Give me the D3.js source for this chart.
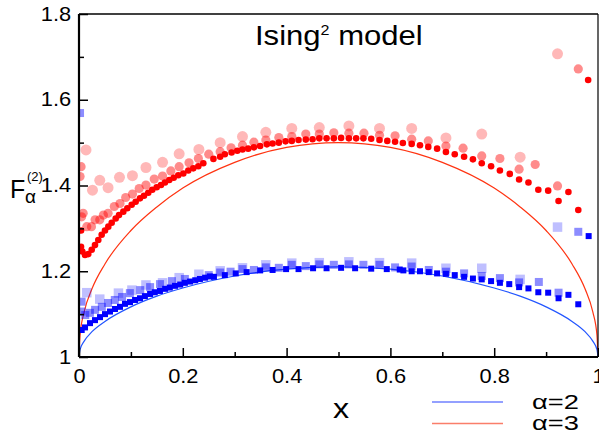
<!DOCTYPE html>
<html>
<head>
<meta charset="utf-8">
<script src="https://cdn.jsdelivr.net/npm/d3@7"></script>
<style>
  body { margin: 0; background: #fff; }
  text { font-family: "Liberation Sans", Arial, Helvetica, sans-serif; fill: #000; }
</style>
</head>
<body>
<div id="chart"></div>
<script>
// theory curves
const curveX   = [0, .002, .01, .025, .05, .1, .15, .2, .3, .4, .5, .6, .7, .8, .85, .9, .95, .975, .99, .998, 1];
const curveA2  = [1, 1.017, 1.037, 1.059, 1.083, 1.117, 1.142, 1.161, 1.189, 1.205, 1.21, 1.205, 1.189, 1.161, 1.142, 1.117, 1.083, 1.059, 1.037, 1.017, 1];
const curveA3  = [1, 1.051, 1.105, 1.159, 1.217, 1.295, 1.350, 1.394, 1.454, 1.489, 1.5, 1.489, 1.454, 1.394, 1.350, 1.295, 1.217, 1.159, 1.105, 1.051, 1];

// alpha=3 numerics (circles): light/large, medium, solid/small
const redLight = [[.0135,1.483],[.026,1.389],[.040,1.412],[.056,1.395],[.078,1.419],[.103,1.423],[.129,1.442],[.161,1.454],
  [.193,1.474],[.231,1.484],[.272,1.500],[.315,1.514],[.360,1.524],[.410,1.533],[.463,1.535],[.520,1.539],[.579,1.533],
  [.641,1.533],[.707,1.511],[.776,1.520],[.850,1.466],[.922,1.707]];
const redMid = [[.004,1.444],[.002,1.421],[.008,1.335],[.005,1.327],[.015,1.304],[.024,1.304],[.031,1.320],[.040,1.320],
  [.047,1.331],[.056,1.335],[.068,1.351],[.079,1.358],[.090,1.372],[.103,1.380],[.116,1.393],[.129,1.401],[.145,1.415],
  [.161,1.422],[.177,1.434],[.193,1.444],[.212,1.453],[.230,1.463],[.250,1.473],[.272,1.479],[.293,1.488],[.315,1.494],
  [.337,1.501],[.360,1.506],[.385,1.512],[.410,1.514],[.437,1.520],[.463,1.520],[.491,1.523],[.520,1.522],[.549,1.522],
  [.579,1.517],[.609,1.516],[.641,1.508],[.673,1.504],[.707,1.492],[.740,1.487],[.776,1.469],[.811,1.463],[.848,1.438],
  [.879,1.449],[.922,1.399],[.962,1.672]];
const redSmall = [[.004,1.295],[.0039,1.257],[.0064,1.246],[.0116,1.238],[.0179,1.240],[.0245,1.250],[.0308,1.261],[.0372,1.273],
  [.0437,1.285],[.0501,1.295],[.0565,1.304],[.063,1.313],[.0707,1.323],[.0771,1.331],[.0854,1.339],[.0931,1.347],
  [.1015,1.355],[.1092,1.362],[.1175,1.370],[.1252,1.376],[.1335,1.383],[.1412,1.390],[.1497,1.396],[.158,1.401],
  [.1657,1.407],[.174,1.413],[.1825,1.418],[.1913,1.424],[.201,1.428],[.2106,1.435],[.2202,1.440],[.2299,1.445],
  [.2395,1.452],[.259,1.462],[.272,1.467],[.281,1.473],[.294,1.477],[.305,1.481],[.315,1.484],[.326,1.486],[.337,1.489],
  [.349,1.492],[.362,1.496],[.373,1.498],[.385,1.500],[.398,1.503],[.410,1.504],[.423,1.506],[.437,1.507],[.450,1.508],
  [.463,1.510],[.477,1.510],[.491,1.510],[.505,1.511],[.520,1.510],[.534,1.510],[.548,1.510],[.563,1.509],[.579,1.506],
  [.594,1.504],[.609,1.502],[.624,1.499],[.641,1.497],[.657,1.494],[.673,1.490],[.690,1.486],[.707,1.478],[.724,1.473],
  [.742,1.467],[.759,1.461],[.776,1.452],[.794,1.445],[.811,1.435],[.830,1.427],[.848,1.414],[.866,1.407],[.885,1.390],
  [.904,1.388],[.924,1.364],[.943,1.385],[.962,1.343],[.981,1.646]];

// alpha=2 numerics (squares)
const blueLight = [[.015,1.150],[.040,1.135],[.076,1.149],[.102,1.156],[.129,1.168],[.161,1.173],[.193,1.185],[.231,1.193],
  [.272,1.201],[.315,1.208],[.360,1.215],[.410,1.219],[.463,1.220],[.520,1.222],[.579,1.220],[.641,1.219],[.707,1.207],
  [.776,1.207],[.850,1.181],[.922,1.303]];
const blueMid = [[.002,1.569],[.005,1.129],[.005,1.106],[.012,1.098],[.021,1.103],[.031,1.110],[.044,1.117],[.056,1.126],
  [.069,1.133],[.083,1.140],[.098,1.149],[.118,1.156],[.137,1.163],[.156,1.170],[.179,1.177],[.204,1.182],[.250,1.191],
  [.272,1.197],[.292,1.199],[.315,1.205],[.337,1.203],[.360,1.209],[.385,1.208],[.410,1.215],[.437,1.212],[.463,1.216],
  [.491,1.215],[.520,1.216],[.548,1.215],[.579,1.215],[.609,1.209],[.641,1.211],[.674,1.203],[.707,1.199],[.742,1.195],
  [.776,1.189],[.811,1.184],[.848,1.174],[.886,1.175],[.924,1.150],[.962,1.292]];
const blueSmall = [[.0052,1.063],[.0116,1.069],[.0212,1.079],[.0308,1.086],[.0405,1.093],[.0501,1.100],[.0597,1.106],
  [.0694,1.112],[.079,1.117],[.0886,1.124],[.0983,1.128],[.108,1.133],[.1175,1.137],[.127,1.142],[.137,1.147],[.146,1.151],
  [.156,1.154],[.166,1.159],[.175,1.162],[.185,1.166],[.195,1.169],[.204,1.173],[.214,1.176],[.224,1.179],[.233,1.182],
  [.243,1.185],[.252,1.188],[.260,1.187],[.281,1.191],[.302,1.195],[.323,1.198],[.349,1.202],[.373,1.203],[.399,1.205],
  [.423,1.205],[.451,1.207],[.477,1.207],[.505,1.208],[.532,1.207],[.563,1.206],[.593,1.205],[.618,1.204],[.625,1.202],
  [.641,1.200],[.657,1.200],[.674,1.198],[.690,1.195],[.707,1.194],[.724,1.191],[.742,1.187],[.759,1.183],[.776,1.181],
  [.794,1.177],[.811,1.173],[.829,1.170],[.848,1.163],[.866,1.160],[.885,1.151],[.904,1.150],[.924,1.137],[.943,1.145],
  [.962,1.123],[.982,1.282]];

const xMajor = [0, .2, .4, .6, .8, 1];
const xMinor = [.1, .3, .5, .7, .9];
const yMajor = [1, 1.2, 1.4, 1.6, 1.8];
const yMinor = [1.1, 1.3, 1.5, 1.7];
const legendLabels = ["α=2", "α=3"];

const width = 599, height = 430;
const margin = {left: 79, right: 1, top: 14, bottom: 73};
const stretch = 1.12; // the original lettering is a bit wide

const svg = d3.select("#chart").append("svg")
    .attr("width", width)
    .attr("height", height);

const x = d3.scaleLinear().domain([0, 1]).range([margin.left, width - margin.right]);
const y = d3.scaleLinear().domain([1, 1.8]).range([height - margin.bottom, margin.top]);

const fmt = d => (d === 0 || d === 1) ? String(d) : d.toFixed(1);

// clip for the data
svg.append("clipPath").attr("id", "plotclip")
  .append("rect")
    .attr("x", x(0)).attr("y", y(1.8))
    .attr("width", x(1) - x(0)).attr("height", y(1) - y(1.8));

const plot = svg.append("g").attr("clip-path", "url(#plotclip)");

// theory lines
const line = d3.line().x(d => x(d[0])).y(d => y(d[1])).curve(d3.curveMonotoneX);
plot.append("path")
    .datum(curveX.map((v, i) => [v, curveA3[i]]))
    .attr("d", line).attr("fill", "none").attr("stroke", "#ff3311").attr("stroke-width", 1.2);
plot.append("path")
    .datum(curveX.map((v, i) => [v, curveA2[i]]))
    .attr("d", line).attr("fill", "none").attr("stroke", "#2255ff").attr("stroke-width", 1.2);

// squares
const squares = (data, size, color, op) => {
  plot.append("g").selectAll("rect")
    .data(data).enter().append("rect")
      .attr("x", d => x(d[0]) - size / 2)
      .attr("y", d => y(d[1]) - size / 2)
      .attr("width", size).attr("height", size)
      .attr("fill", color).attr("fill-opacity", op);
};
const circles = (data, r, color, op) => {
  plot.append("g").selectAll("circle")
    .data(data).enter().append("circle")
      .attr("cx", d => x(d[0]))
      .attr("cy", d => y(d[1]))
      .attr("r", r)
      .attr("fill", color).attr("fill-opacity", op);
};

squares(blueLight, 9.5, "#0000ff", 0.25);
squares(blueMid, 8, "#0000ff", 0.45);
squares(blueSmall, 6, "#0000ff", 1);
circles(redLight, 5.5, "#ff0000", 0.28);
circles(redMid, 4.6, "#ff0000", 0.45);
circles(redSmall, 3.3, "#ff0000", 1);

// axes, ticks pointing in
const axes = svg.append("g");
axes.append("g")
    .attr("transform", `translate(0,${y(1)})`)
    .call(d3.axisBottom(x).tickValues(xMajor).tickSize(-9).tickPadding(12).tickFormat(fmt))
    .call(g => g.select(".domain").remove());
axes.append("g")
    .attr("transform", `translate(0,${y(1)})`)
    .call(d3.axisBottom(x).tickValues(xMinor).tickSize(-5).tickFormat(""))
    .call(g => g.select(".domain").remove());
axes.append("g")
    .attr("transform", `translate(${x(0)},0)`)
    .call(d3.axisLeft(y).tickValues(yMajor).tickSize(-9).tickPadding(7).tickFormat(fmt))
    .call(g => g.select(".domain").remove());
axes.append("g")
    .attr("transform", `translate(${x(0)},0)`)
    .call(d3.axisLeft(y).tickValues(yMinor).tickSize(-5).tickFormat(""))
    .call(g => g.select(".domain").remove());

axes.selectAll(".tick line").attr("stroke", "#000").attr("stroke-width", 1.5);
axes.selectAll(".tick text")
    .style("font-size", "19.5px").attr("fill", "#000")
    .attr("transform", `scale(${stretch},1)`);

// frame
svg.append("line").attr("x1", x(0)).attr("x2", x(1)).attr("y1", y(1)).attr("y2", y(1)).attr("stroke", "#000").attr("stroke-width", 2.2);
svg.append("line").attr("x1", x(0)).attr("x2", x(0)).attr("y1", y(1)).attr("y2", y(1.8)).attr("stroke", "#000").attr("stroke-width", 2.2);
svg.append("line").attr("x1", x(0)).attr("x2", x(1)).attr("y1", y(1.8)).attr("y2", y(1.8)).attr("stroke", "#000").attr("stroke-width", 1.5);
svg.append("line").attr("x1", x(1)).attr("x2", x(1)).attr("y1", y(1)).attr("y2", y(1.8)).attr("stroke", "#000").attr("stroke-width", 1.2);

// title
const title = svg.append("g").attr("transform", `translate(255,45) scale(1.15,1)`)
  .append("text").style("font-size", "27px");
title.append("tspan").text("Ising");
title.append("tspan").text("2").attr("dy", -10).style("font-size", "14px");
title.append("tspan").text(" model").attr("dy", 10);

// y label F_alpha^(2)
svg.append("text").attr("x", 10).attr("y", 198).style("font-size", "25px").text("F");
svg.append("text").attr("x", 25).attr("y", 203).style("font-size", "19px").text("α");
svg.append("text").attr("x", 27).attr("y", 181).style("font-size", "13px").text("(2)");

// x label
svg.append("g").attr("transform", `translate(341,418) scale(1.15,1)`)
  .append("text").attr("text-anchor", "middle").style("font-size", "28px").text("x");

// legend
const legendColors = ["#6f80ff", "#fa7e6a"];
const legend = svg.append("g").selectAll("g").data(legendLabels).enter().append("g")
    .attr("transform", (d, i) => `translate(0,${402 + i * 21.5})`);
legend.append("line").attr("x1", 432).attr("x2", 503)
    .attr("stroke", (d, i) => legendColors[i]).attr("stroke-width", 1.3);
legend.append("text")
    .attr("transform", "translate(532,6.5) scale(1.4,1)")
    .style("font-size", "19.5px").text(d => d);
</script>
</body>
</html>
